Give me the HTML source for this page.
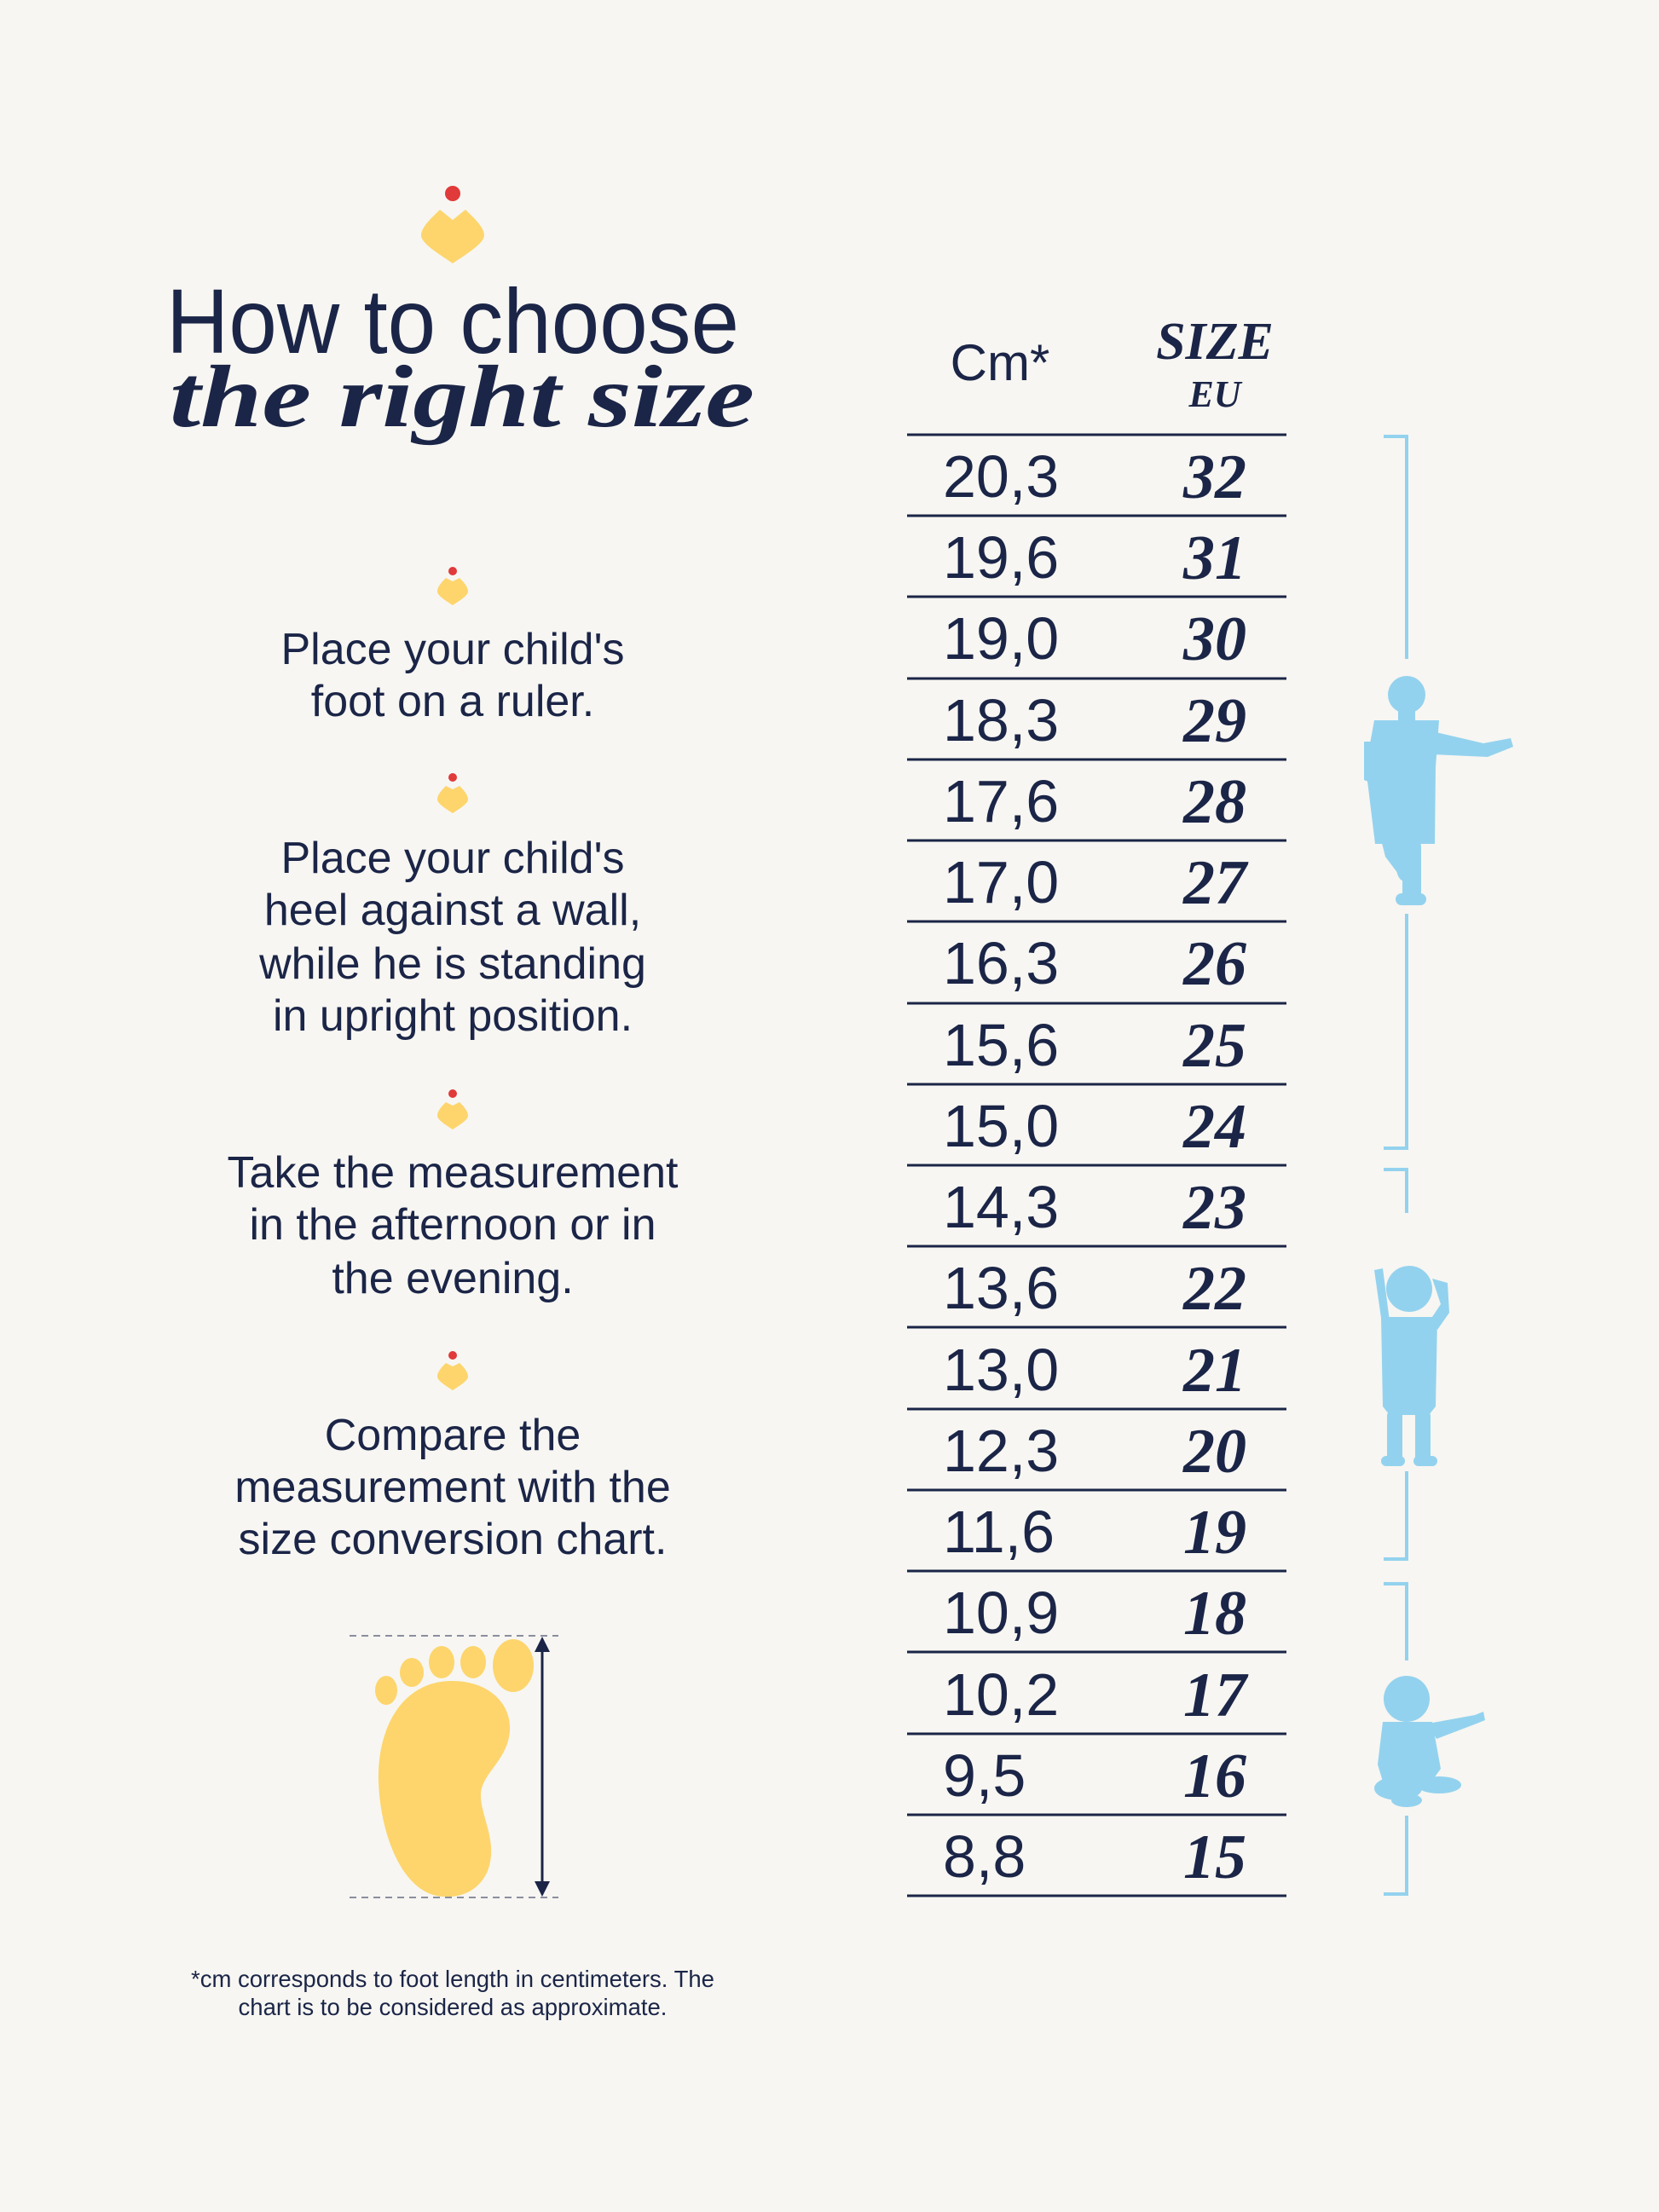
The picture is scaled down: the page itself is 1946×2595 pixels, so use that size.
<!DOCTYPE html>
<html><head><meta charset="utf-8"><style>
html,body{margin:0;padding:0;background:#f7f6f2;}
svg{display:block;}
</style></head><body>
<svg xmlns="http://www.w3.org/2000/svg" width="1946" height="2595" viewBox="0 0 1946 2595">
<rect width="1946" height="2595" fill="#f7f6f2"/>
<defs>
<g id="hrt"><path d="M0,-12 L-8,-16 C-12,-12 -18,-6 -18,0 C-18,5 -6,12 0,16 C6,12 18,5 18,0 C18,-6 12,-12 8,-16 Z" fill="#fdd56c"/></g>
</defs>
<!-- top logo -->
<circle cx="531" cy="227" r="9" fill="#e03a3a"/>
<path d="M531,258 L516,246 C508,254 494,266 494,276 C494,286 518,300 531,309 C544,300 568,286 568,276 C568,266 554,254 546,246 Z" fill="#fdd56c"/>
<!-- title -->
<g fill="#1b2547">
<text x="195" y="414" font-family="Liberation Sans, sans-serif" font-size="108" textLength="672" lengthAdjust="spacingAndGlyphs">How to choose</text>
<text x="199" y="500" font-family="Liberation Serif, serif" font-weight="bold" font-style="italic" font-size="104" textLength="686" lengthAdjust="spacingAndGlyphs">the right size</text>
</g>
<!-- small icons -->
<g>
<circle cx="531" cy="670" r="5" fill="#e03a3a"/><use href="#hrt" transform="translate(531,694)"/>
<circle cx="531" cy="912" r="5" fill="#e03a3a"/><use href="#hrt" transform="translate(531,938)"/>
<circle cx="531" cy="1283" r="5" fill="#e03a3a"/><use href="#hrt" transform="translate(531,1309)"/>
<circle cx="531" cy="1590" r="5" fill="#e03a3a"/><use href="#hrt" transform="translate(531,1615)"/>
</g>
<g fill="#1b2547" font-family="Liberation Sans, sans-serif" font-size="52" text-anchor="middle">
<text x="531" y="779">Place your child's</text>
<text x="531" y="840">foot on a ruler.</text>
<text x="531" y="1024">Place your child's</text>
<text x="531" y="1085">heel against a wall,</text>
<text x="531" y="1148">while he is standing</text>
<text x="531" y="1209">in upright position.</text>
<text x="531" y="1393">Take the measurement</text>
<text x="531" y="1454">in the afternoon or in</text>
<text x="531" y="1517">the evening.</text>
<text x="531" y="1701">Compare the</text>
<text x="531" y="1762">measurement with the</text>
<text x="531" y="1823">size conversion chart.</text>
</g>
<!-- foot -->
<g fill="#fdd56c">
<ellipse cx="453" cy="1983" rx="13" ry="17"/>
<ellipse cx="483" cy="1962" rx="14" ry="17"/>
<ellipse cx="518" cy="1950" rx="15" ry="19"/>
<ellipse cx="555" cy="1950" rx="15" ry="19"/>
<ellipse cx="602" cy="1954" rx="24" ry="31"/>
<path d="M530,1972 C575,1972 600,2000 598,2030 C596,2065 565,2080 564,2105 C563,2130 585,2160 572,2195 C560,2222 535,2228 512,2224 C470,2215 446,2150 444,2090 C442,2030 470,1972 530,1972 Z"/>
</g>
<g stroke="#8a8f9e" stroke-width="2" stroke-dasharray="8,6">
<line x1="410" y1="1919" x2="655" y2="1919"/>
<line x1="410" y1="2226" x2="655" y2="2226"/>
</g>
<line x1="636" y1="1930" x2="636" y2="2215" stroke="#1b2547" stroke-width="3"/>
<path d="M627,1938 L636,1920 L645,1938 Z M627,2207 L636,2225 L645,2207 Z" fill="#1b2547"/>
<!-- footnote -->
<g fill="#1b2547" font-family="Liberation Sans, sans-serif" font-size="27.5" text-anchor="middle">
<text x="531" y="2331">*cm corresponds to foot length in centimeters. The</text>
<text x="531" y="2364">chart is to be considered as approximate.</text>
</g>
<!-- table header -->
<text x="1173" y="446" fill="#1b2547" font-family="Liberation Sans, sans-serif" font-size="60" text-anchor="middle">Cm*</text>
<text x="1425" y="421" fill="#1b2547" font-family="Liberation Serif, serif" font-weight="bold" font-style="italic" font-size="62" text-anchor="middle">SIZE</text>
<text x="1425" y="477" fill="#1b2547" font-family="Liberation Serif, serif" font-weight="bold" font-style="italic" font-size="44" text-anchor="middle">EU</text>
<!-- table lines -->
<g stroke="#1b2547" stroke-width="3">
<line x1="1064" x2="1509" y1="510" y2="510"/><line x1="1064" x2="1509" y1="605" y2="605"/>
<line x1="1064" x2="1509" y1="700" y2="700"/><line x1="1064" x2="1509" y1="796" y2="796"/>
<line x1="1064" x2="1509" y1="891" y2="891"/><line x1="1064" x2="1509" y1="986" y2="986"/>
<line x1="1064" x2="1509" y1="1081" y2="1081"/><line x1="1064" x2="1509" y1="1177" y2="1177"/>
<line x1="1064" x2="1509" y1="1272" y2="1272"/><line x1="1064" x2="1509" y1="1367" y2="1367"/>
<line x1="1064" x2="1509" y1="1462" y2="1462"/><line x1="1064" x2="1509" y1="1557" y2="1557"/>
<line x1="1064" x2="1509" y1="1653" y2="1653"/><line x1="1064" x2="1509" y1="1748" y2="1748"/>
<line x1="1064" x2="1509" y1="1843" y2="1843"/><line x1="1064" x2="1509" y1="1938" y2="1938"/>
<line x1="1064" x2="1509" y1="2034" y2="2034"/><line x1="1064" x2="1509" y1="2129" y2="2129"/>
<line x1="1064" x2="1509" y1="2224" y2="2224"/>
</g>
<g fill="#1b2547" font-family="Liberation Sans, sans-serif" font-size="70">
<text x="1106" y="583">20,3</text><text x="1106" y="678">19,6</text><text x="1106" y="773">19,0</text>
<text x="1106" y="869">18,3</text><text x="1106" y="964">17,6</text><text x="1106" y="1059">17,0</text>
<text x="1106" y="1154">16,3</text><text x="1106" y="1250">15,6</text><text x="1106" y="1345">15,0</text>
<text x="1106" y="1440">14,3</text><text x="1106" y="1535">13,6</text><text x="1106" y="1631">13,0</text>
<text x="1106" y="1726">12,3</text><text x="1106" y="1821">11,6</text><text x="1106" y="1916">10,9</text>
<text x="1106" y="2012">10,2</text><text x="1106" y="2107">9,5</text><text x="1106" y="2202">8,8</text>
</g>
<g fill="#1b2547" font-family="Liberation Serif, serif" font-weight="bold" font-style="italic" font-size="74" text-anchor="middle">
<text x="1425" y="584">32</text><text x="1425" y="679">31</text><text x="1425" y="774">30</text>
<text x="1425" y="870">29</text><text x="1425" y="965">28</text><text x="1425" y="1060">27</text>
<text x="1425" y="1155">26</text><text x="1425" y="1251">25</text><text x="1425" y="1346">24</text>
<text x="1425" y="1441">23</text><text x="1425" y="1536">22</text><text x="1425" y="1632">21</text>
<text x="1425" y="1727">20</text><text x="1425" y="1822">19</text><text x="1425" y="1917">18</text>
<text x="1425" y="2013">17</text><text x="1425" y="2108">16</text><text x="1425" y="2203">15</text>
</g>
<!-- brackets -->
<g stroke="#93d2ee" stroke-width="4" fill="none">
<path d="M1623,512 L1650,512 L1650,773"/><path d="M1650,1072 L1650,1347 L1623,1347"/>
<path d="M1623,1372 L1650,1372 L1650,1423"/><path d="M1650,1726 L1650,1829 L1623,1829"/>
<path d="M1623,1858 L1650,1858 L1650,1948"/><path d="M1650,2130 L1650,2222 L1623,2222"/>
</g>
<!-- child 1 -->
<g fill="#93d2ee">
<circle cx="1650" cy="815" r="22"/>
<rect x="1640" y="830" width="20" height="20"/>
<path d="M1612,845 L1688,845 L1684,900 L1683,990 L1613,990 L1602,900 Z"/>
<path d="M1680,858 L1740,872 L1772,866 L1775,876 L1745,888 L1680,885 Z"/>
<path d="M1600,870 L1614,870 L1612,920 L1600,915 Z"/>
<rect x="1645" y="985" width="22" height="70" rx="8"/>
<rect x="1637" y="1048" width="36" height="14" rx="7"/>
<path d="M1620,985 L1640,985 L1660,1000 L1655,1025 L1640,1025 L1625,1005 Z"/>
<ellipse cx="1648" cy="1018" rx="10" ry="16"/>
</g>
<!-- child 2 -->
<g fill="#93d2ee">
<circle cx="1653" cy="1512" r="27"/>
<path d="M1620,1545 L1686,1545 L1684,1650 L1676,1660 L1630,1660 L1622,1650 Z"/>
<path d="M1612,1490 L1622,1488 L1630,1550 L1622,1560 Z"/>
<path d="M1680,1500 L1698,1505 L1700,1540 L1686,1560 L1680,1545 L1690,1530 Z"/>
<rect x="1627" y="1655" width="18" height="62" rx="6"/>
<rect x="1660" y="1655" width="18" height="62" rx="6"/>
<rect x="1620" y="1708" width="28" height="12" rx="6"/>
<rect x="1658" y="1708" width="28" height="12" rx="6"/>
</g>
<!-- child 3 -->
<g fill="#93d2ee">
<circle cx="1650" cy="1993" r="27"/>
<path d="M1622,2020 L1680,2020 L1690,2075 L1672,2100 L1625,2100 L1616,2070 Z"/>
<path d="M1675,2022 L1730,2012 L1740,2008 L1742,2018 L1732,2022 L1685,2040 Z"/>
<ellipse cx="1640" cy="2098" rx="28" ry="14"/>
<ellipse cx="1688" cy="2094" rx="26" ry="10"/>
<ellipse cx="1650" cy="2112" rx="18" ry="8"/>
</g>
</svg>
</body></html>
